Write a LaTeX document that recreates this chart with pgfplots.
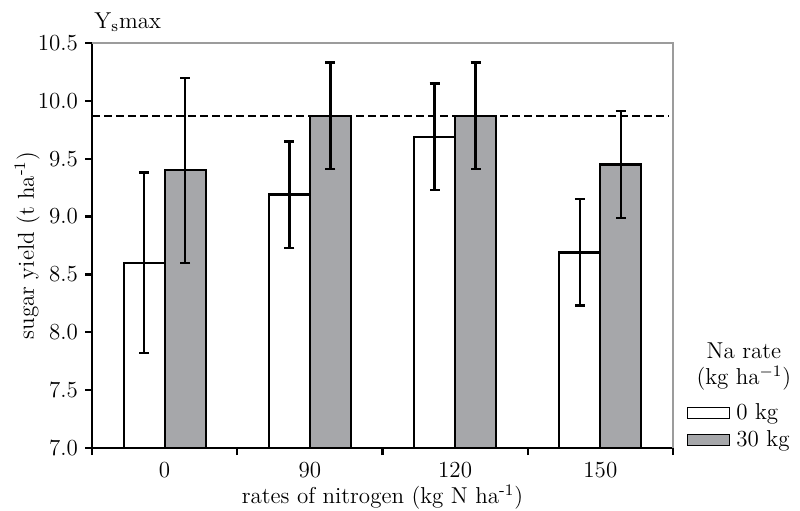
\documentclass[border=0pt]{standalone}
\usepackage{pgfplots}
\pgfplotsset{compat=1.18}
\definecolor{barGray}{HTML}{A6A7AA}
\definecolor{frameGray}{HTML}{9C9C9C}
\begin{document}
\begin{tikzpicture}[font=\fontsize{11.5}{13.5}\selectfont]
\begin{axis}[
  name=ax,
  scale only axis, width=290.5pt, height=202.5pt,
  clip=false,
  ybar=0pt, bar width=20.5pt,
  xmin=-0.5, xmax=3.5, ymin=7, ymax=10.5,
  axis x line*=bottom, axis y line*=left,
  x axis line style={line width=1.2pt,-},
  y axis line style={line width=0.6pt,-},
  xtick={0,1,2,3}, xticklabels={0,90,120,150},
  minor xtick={-0.5,0.5,1.5,2.5,3.5},
  major x tick style={draw=none},
  minor x tick style={black, line width=1.2pt},
  minor tick length=3.5pt,
  ytick={7,7.5,8,8.5,9,9.5,10,10.5},
  y tick style={black, line width=1.2pt},
  major tick length=3.5pt,
  tick align=outside,
  yticklabel style={/pgf/number format/fixed, /pgf/number format/fixed zerofill, /pgf/number format/precision=1},
  /pgf/number format/assume math mode=true,
  every axis y label/.style={at={(axis description cs:0,0.5)}, xshift=-32.5pt, rotate=90, anchor=center},
  every axis x label/.style={at={(axis description cs:0.5,0)}, yshift=-24.5pt, anchor=center},
  ylabel={sugar yield (t ha\textsuperscript{-1})},
  xlabel={rates of nitrogen (kg N ha\textsuperscript{-1})},
  error bars/y dir=both, error bars/y explicit,
  error bars/error bar style={black, line width=1.2pt},
  error bars/error mark options={rotate=90, mark size=2.5pt, line width=1.2pt, black},
  legend image code/.code={\draw[#1, line width=0.5pt] (0pt,-2.75pt) rectangle (21pt,2.75pt);},
  legend style={at={(rel axis cs:1.024,0.13)}, anchor=north west, draw=none, fill=none,
    inner xsep=0pt, row sep=0pt, /tikz/every odd column/.append style={column sep=1pt}},
  legend cell align=left,
]
\addplot[draw=black, line width=1.1pt, fill=white] coordinates {
  (0,8.60) +- (0,0.78)
  (1,9.19) +- (0,0.46)
  (2,9.69) +- (0,0.46)
  (3,8.69) +- (0,0.46)
};
\addplot[draw=black, line width=1.1pt, fill=barGray] coordinates {
  (0,9.40) +- (0,0.80)
  (1,9.87) +- (0,0.46)
  (2,9.87) +- (0,0.46)
  (3,9.45) +- (0,0.46)
};
\legend{0 kg,30 kg}
\addplot[sharp plot, no markers, black, line width=1.1pt, dash pattern=on 4pt off 2pt, forget plot] coordinates {(-0.5,9.87) (3.47,9.87)};
\draw[frameGray, line width=1.2pt] (rel axis cs:0,1) -- (rel axis cs:1,1) -- (rel axis cs:1,0);
\node[anchor=base west] at (rel axis cs:-0.008,1) [yshift=7.5pt] {Y$_{\mathrm{s}}$max};
\node[align=center, font=\fontsize{11.5}{13}\selectfont] at (rel axis cs:1.122,0.2) {Na rate\\(kg ha$^{-1}$)};
\end{axis}
\pgfresetboundingbox
\path ([shift={(-46pt,-31pt)}]ax.south west) rectangle ([shift={(63.5pt,21.5pt)}]ax.north east);
\end{tikzpicture}
\end{document}
